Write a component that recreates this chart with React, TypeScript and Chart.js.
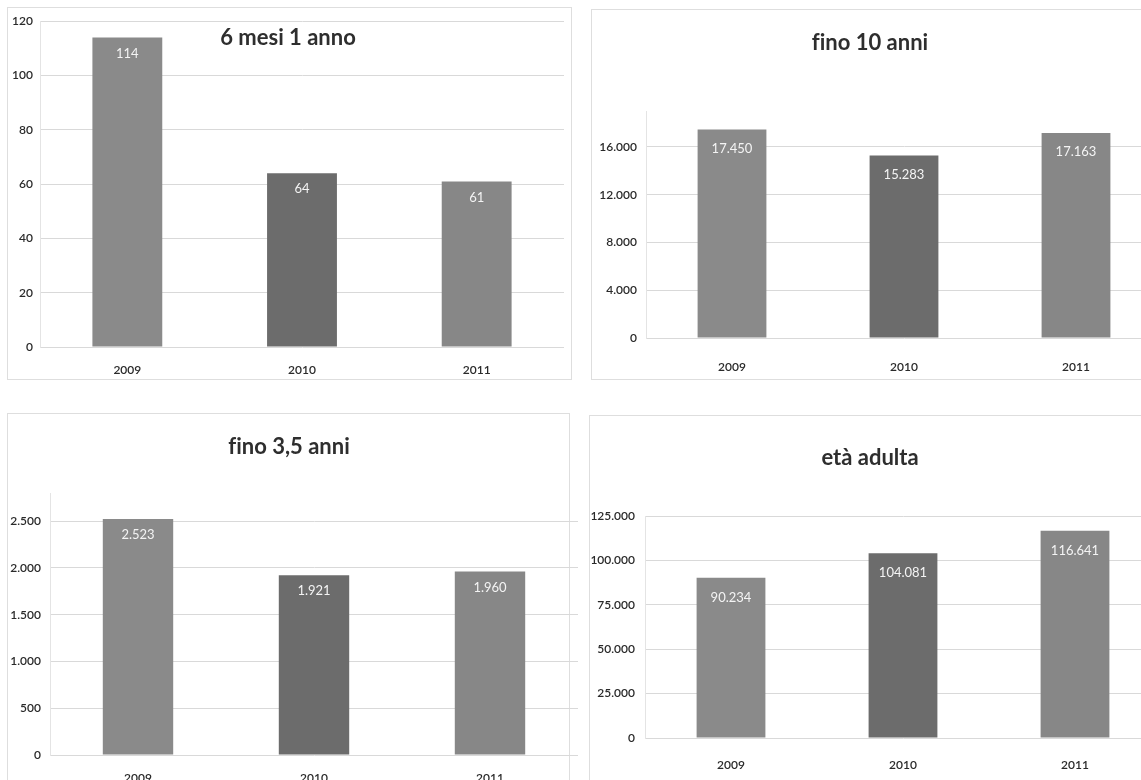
import React, { useEffect, useRef } from "react";
import { Chart, registerables } from "chart.js";

Chart.register(...registerables);

// ---- data ----
const YEARS = ["2009", "2010", "2011"];

const VALUES_6_MESI = [114, 64, 61];
const VALUES_10_ANNI = [17450, 15283, 17163];
const VALUES_3_5_ANNI = [2523, 1921, 1960];
const VALUES_ADULTA = [90234, 104081, 116641];

const TICKS_6_MESI = [0, 20, 40, 60, 80, 100, 120];
const TICKS_10_ANNI = [0, 4000, 8000, 12000, 16000];
const TICKS_3_5_ANNI = [0, 500, 1000, 1500, 2000, 2500];
const TICKS_ADULTA = [0, 25000, 50000, 75000, 100000, 125000];

const TITLE_6_MESI = "6 mesi 1 anno";
const TITLE_10_ANNI = "fino 10 anni";
const TITLE_3_5_ANNI = "fino 3,5 anni";
const TITLE_ADULTA = "età adulta";

const BAR_COLORS = ["#8a8a8a", "#6c6c6c", "#878787"];

const FONT = "Lato, 'Liberation Sans', Arial, sans-serif";
const TEXT_COLOR = "#2a2a2a";
const GRID_COLOR = "#d9d9d9";

function fmt(v: number): string {
  return String(Math.round(v)).replace(/\B(?=(\d{3})+(?!\d))/g, ".");
}

type PanelCfg = {
  title: string;
  values: number[];
  ticks: number[];
  yMax: number;
  left: number;
  top: number;
  width: number;
  height: number;
  yAxisWidth: number;
  yPad: number;
  xAxisHeight: number;
  xPad: number;
  padTop: number;
  padRight: number;
  titleX: number;
  titleY: number;
  labelOffset: number;
};

const PANELS: PanelCfg[] = [
  {
    title: TITLE_6_MESI, values: VALUES_6_MESI, ticks: TICKS_6_MESI, yMax: 120,
    left: 7, top: 7, width: 565, height: 373,
    yAxisWidth: 33, yPad: 7, xAxisHeight: 33, xPad: 16, padTop: 14, padRight: 8,
    titleX: 281, titleY: 31, labelOffset: 16,
  },
  {
    title: TITLE_10_ANNI, values: VALUES_10_ANNI, ticks: TICKS_10_ANNI, yMax: 19000,
    left: 591, top: 9, width: 579, height: 371,
    yAxisWidth: 55, yPad: 9, xAxisHeight: 42, xPad: 22, padTop: 102, padRight: 8,
    titleX: 279, titleY: 34, labelOffset: 19,
  },
  {
    title: TITLE_3_5_ANNI, values: VALUES_3_5_ANNI, ticks: TICKS_3_5_ANNI, yMax: 2800,
    left: 7, top: 413, width: 579, height: 380,
    yAxisWidth: 43, yPad: 9, xAxisHeight: 38, xPad: 16, padTop: 80, padRight: 8,
    titleX: 282, titleY: 34, labelOffset: 16,
  },
  {
    title: TITLE_ADULTA, values: VALUES_ADULTA, ticks: TICKS_ADULTA, yMax: 125000,
    left: 589, top: 415, width: 580, height: 380,
    yAxisWidth: 56, yPad: 10, xAxisHeight: 57, xPad: 20, padTop: 101, padRight: 8,
    titleX: 281, titleY: 43, labelOffset: 20,
  },
];

// box borders (left, top, right, bottom) of the scanned panels
const BOXES = [
  { l: 7, t: 7, r: 572, b: 380 },
  { l: 591, t: 9, r: 1170, b: 380 },
  { l: 7, t: 413, r: 570, b: 800 },
  { l: 589, t: 415, r: 1170, b: 800 },
];

const panelPlugin = {
  id: "panelDecor",
  afterDatasetsDraw(chart: any, _args: any, opts: any) {
    const ctx = chart.ctx;
    ctx.save();
    // value labels inside bars
    const meta = chart.getDatasetMeta(0);
    const data = chart.data.datasets[0].data as number[];
    ctx.font = `13px ${FONT}`;
    ctx.fillStyle = "#f4f4f4";
    ctx.textAlign = "center";
    ctx.textBaseline = "middle";
    meta.data.forEach((bar: any, i: number) => {
      ctx.fillText(fmt(data[i]), bar.x, bar.y + opts.labelOffset);
    });
    // title
    try {
      (ctx as any).textRendering = "optimizeSpeed";
    } catch (e) {}
    ctx.font = `bold 22px ${FONT}`;
    ctx.fillStyle = "#2e2e2e";
    ctx.fillText(opts.title, opts.titleX, opts.titleY);
    ctx.restore();
  },
};

function Panel({ cfg }: { cfg: PanelCfg }) {
  const ref = useRef<HTMLCanvasElement | null>(null);
  useEffect(() => {
    if (!ref.current) return;
    const chart = new Chart(ref.current, {
      type: "bar",
      data: {
        labels: YEARS,
        datasets: [
          {
            data: cfg.values,
            backgroundColor: BAR_COLORS,
            borderWidth: 0,
            barPercentage: 1,
            categoryPercentage: 0.4,
          },
        ],
      },
      options: {
        responsive: false,
        animation: false,
        devicePixelRatio: 1,
        layout: { padding: { top: cfg.padTop, right: cfg.padRight, left: 0, bottom: 0 } },
        plugins: {
          legend: { display: false },
          tooltip: { enabled: false },
          title: { display: false },
          panelDecor: {
            title: cfg.title,
            titleX: cfg.titleX,
            titleY: cfg.titleY,
            labelOffset: cfg.labelOffset,
          },
        } as any,
        scales: {
          x: {
            grid: { display: false, drawTicks: false },
            border: { display: false },
            ticks: {
              padding: cfg.xPad,
              color: TEXT_COLOR,
              font: { family: FONT, size: 12, weight: "600" as any },
              maxRotation: 0,
            },
            afterFit: (scale: any) => {
              scale.height = cfg.xAxisHeight;
            },
          },
          y: {
            min: 0,
            max: cfg.yMax,
            grid: { color: GRID_COLOR, lineWidth: 1, drawTicks: false },
            border: { display: true, color: "#e4e4e4" },
            afterBuildTicks: (scale: any) => {
              scale.ticks = cfg.ticks.map((v) => ({ value: v }));
            },
            ticks: {
              padding: cfg.yPad,
              color: TEXT_COLOR,
              font: { family: FONT, size: 12, weight: "600" as any },
              callback: (v: any) => fmt(Number(v)),
            },
            afterFit: (scale: any) => {
              scale.width = cfg.yAxisWidth;
            },
          },
        },
      },
      plugins: [panelPlugin],
    });
    return () => chart.destroy();
  }, [cfg]);
  return (
    <canvas
      ref={ref}
      width={cfg.width}
      height={cfg.height}
      style={{ position: "absolute", left: cfg.left, top: cfg.top, width: cfg.width, height: cfg.height }}
    />
  );
}

export default function App() {
  return (
    <div
      style={{
        position: "absolute",
        left: 0,
        top: 0,
        width: 1141,
        height: 780,
        overflow: "hidden",
        background: "#ffffff",
      }}
    >
      {BOXES.map((b, i) => (
        <div
          key={"box" + i}
          style={{
            position: "absolute",
            left: b.l,
            top: b.t,
            width: b.r - b.l,
            height: b.b - b.t,
            border: "1px solid #dedede",
            boxSizing: "border-box",
          }}
        />
      ))}
      {PANELS.map((p, i) => (
        <Panel key={i} cfg={p} />
      ))}
    </div>
  );
}
